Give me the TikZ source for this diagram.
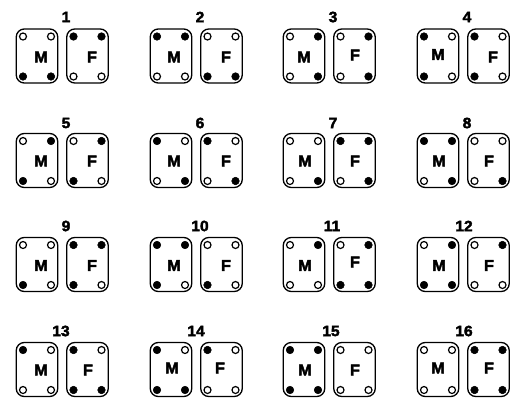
\documentclass[tikz,border=0pt]{standalone}
\usepackage{fontspec}
\usepackage{tikz}
\newfontfamily\platefont[BoldFeatures={FakeBold=2.5,FakeStretch=1.04}]{Liberation Sans}

\newcommand{\plate}[7]{%
  \node[platebox] (#1#2) at (#3,#4) {};
  \node[letter] (#1#2-letter) at (#5,#6) {#1};
  \edef\bits{#7}
  \foreach \s [count=\k from 0] in \bits {
    \pgfmathsetmacro\dx{{-14,14,-14,14}[\k]}
    \pgfmathsetmacro\dy{{-20,-20,20,20}[\k]}
    \node[dot\s] (#1#2-\k) at (#3+\dx,#4+0.5+\dy) {};
  }
}

\begin{document}
\begin{tikzpicture}[x=1pt,y=-1pt,
    platebox/.style={draw,line width=1.3pt,rounded corners=8pt,inner sep=0pt,
      minimum width=41.5pt,minimum height=54pt},
    letter/.style={font=\platefont\bfseries\fontsize{15.5}{15.5}\selectfont,inner sep=0pt},
    number/.style={font=\platefont\bfseries\fontsize{15}{15}\selectfont,inner sep=0pt},
    dot0/.style={draw,circle,line width=1.2pt,fill=white,inner sep=0pt,minimum size=7pt},
    dot1/.style={draw,circle,line width=0.5pt,fill=black,inner sep=0pt,minimum size=7.6pt}]
  \useasboundingbox (0,0) rectangle (511,397);
  \def\pairs{
    1/66/17/37/56/41/57/92/57/{0,0,1,1}/{1,1,0,0},
    2/200/17/171/56/174/57/226/57/{1,1,0,0}/{0,0,1,1},
    3/333/17/304/56/304/57/355/55/{0,1,0,1}/{0,1,0,1},
    4/467/17/438/56/438/54.5/493/57/{1,0,1,0}/{1,0,1,0},
    5/66/123/37/160.5/41/161/92/161/{0,1,1,0}/{0,1,1,0},
    6/200/123/171/160.5/174/161/226/161/{1,0,0,1}/{1,0,0,1},
    7/333/123/304/160.5/305/161/355/161/{0,0,0,1}/{1,1,0,1},
    8/467/123/438/160.5/439/161/489/161/{1,1,0,1}/{0,0,0,1},
    9/66/226/37/264.5/41/265.5/92/265.5/{0,0,1,0}/{1,1,1,0},
    10/200/226/171/264.5/174/265.5/226/265.5/{1,1,1,0}/{0,0,1,0},
    11/332/226/304/264.5/305/265.5/355/262/{0,1,0,0}/{0,1,1,1},
    12/464/226/438/264.5/439/265.5/489/265.5/{0,1,1,1}/{0,1,0,0},
    13/61/331/37/369.5/41/370/88/370/{1,0,0,0}/{1,0,1,1},
    14/196/331/171/369.5/172/368/220/368/{1,0,1,1}/{1,0,0,0},
    15/331/331/304/369.5/305/370/355/370/{1,1,1,1}/{0,0,0,0},
    16/464/331/438/369.5/438/368/489/368/{0,0,0,0}/{1,1,1,1}}
  \foreach \n/\nx/\ny/\bx/\by/\mx/\my/\fx/\fy/\mbits/\fbits in \pairs {
    \node[number] (num\n) at (\nx,\ny) {\n};
    \plate{M}{\n}{\bx}{\by}{\mx}{\my}{\mbits}
    \plate{F}{\n}{\bx+50.5}{\by}{\fx}{\fy}{\fbits}
  }
\end{tikzpicture}
\end{document}
